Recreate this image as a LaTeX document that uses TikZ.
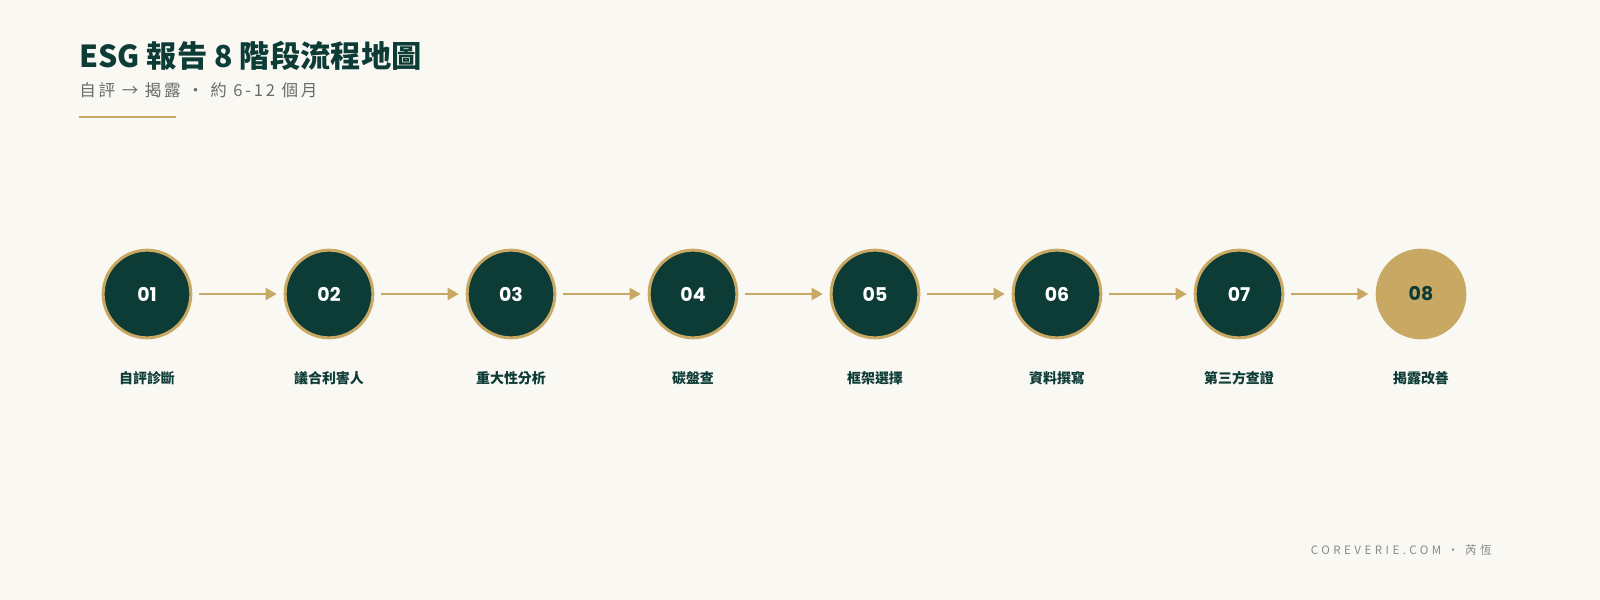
\documentclass[tikz,border=0pt]{standalone}
\usepackage{fontspec}
\setmainfont{Noto Sans CJK TC}
\newfontfamily\numfont{Poppins}
\newfontfamily\subfont[LetterSpace=17]{Noto Sans CJK TC}
\newfontfamily\footfont[LetterSpace=30]{Noto Sans CJK TC}
\usetikzlibrary{arrows.meta}
\definecolor{bg}{HTML}{FAF8F3}
\definecolor{deep}{HTML}{0D3B36}
\definecolor{gold}{HTML}{C8A862}
\definecolor{greytext}{HTML}{6B6B6B}
\definecolor{foottext}{HTML}{8A8A8A}
\tikzset{
  stepcircle/.style={circle, minimum size=44pt, inner sep=0pt, fill=deep, draw=gold, line width=1.5pt, text=white, font=\numfont\bfseries\fontsize{9.5}{11}\selectfont},
  lastcircle/.style={circle, minimum size=45.5pt, inner sep=0pt, fill=gold, text=deep, font=\numfont\bfseries\fontsize{9.5}{11}\selectfont},
  steplabel/.style={text=deep, font=\bfseries\fontsize{7}{8}\selectfont, inner sep=0pt},
  flow/.style={draw=gold, line width=1pt, -{Triangle[length=5.5pt,width=6pt]}, shorten >=3.5pt, shorten <=3.5pt}
}
\begin{document}
\begin{tikzpicture}[x=0.5bp,y=-0.5bp]
\fill[bg] (0,0) rectangle (1600,600);
\useasboundingbox (0,0) rectangle (1600,600);
\node[anchor=base west, inner sep=0pt, text=deep, font=\bfseries\fontsize{15.2}{18}\selectfont] (title) at (79,68) {ESG 報告 8 階段流程地圖};
\node[anchor=base west, inner sep=0pt, text=greytext, font=\subfont\fontsize{8.3}{10}\selectfont] (subtitle) at (79,97) {自評 → 揭露 ・ 約 6-12 個月};
\coordinate (rulea) at (79,117);
\coordinate (ruleb) at (176,117);
\draw[gold, line width=1pt] (rulea) -- (ruleb);
\foreach \i/\x/\t in {1/147/自評診斷,2/329/議合利害人,3/511/重大性分析,4/693/碳盤查,5/875/框架選擇,6/1057/資料撰寫,7/1239/第三方查證,8/1421/揭露改善}{
  \ifnum\i<8
    \node[stepcircle] (c\i) at (\x,294) {0\i};
  \else
    \node[lastcircle] (c\i) at (\x,294) {0\i};
  \fi
  \node[steplabel] (l\i) at (\x,378) {\t};
}
\foreach \i [evaluate=\i as \j using int(\i+1)] in {1,...,7}{
  \draw[flow] (c\i.east) -- (c\j.west);
}
\node[anchor=base east, inner sep=0pt, text=foottext, font=\footfont\fontsize{5.8}{7}\selectfont] (footer) at (1492,554) {COREVERIE.COM · 芮恆};
\end{tikzpicture}
\end{document}
